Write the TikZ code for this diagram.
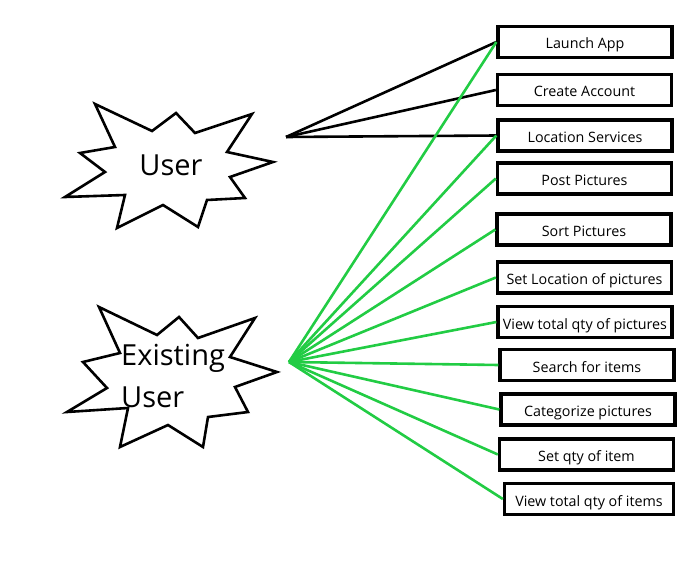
\documentclass[tikz,border=0pt]{standalone}
\usepackage{fontspec}
\setmainfont{Open Sans}
\definecolor{linkgreen}{RGB}{34,204,68}

\begin{document}
\begin{tikzpicture}[x=1pt, y=-1pt, line join=miter,
    task/.style={draw, line width=3.3pt, minimum width=174pt, minimum height=31pt,
        inner sep=0pt, text height=16pt, text depth=2pt,
        font=\fontsize{14.3}{17}\selectfont},
    starline/.style={line width=2.6pt, black},
    olduser/.style={line width=2.6pt, black},
    newuser/.style={line width=2.6pt, linkgreen}]
    \useasboundingbox (0,0) rectangle (696,564);

    % star for User
    \draw[starline] (95,104) -- (152,131) -- (176,113) -- (195,133) -- (252,114)
        -- (227,152) -- (273,162) -- (230,177) -- (245,198) -- (207,200)
        -- (198,227) -- (163,205) -- (117,228) -- (125,195) -- (65,197)
        -- (105,172) -- (80,153) -- (115,147) -- cycle;
    \node[font=\fontsize{29}{34}\selectfont] (user) at (171,165) {User};

    % star for Existing User
    \draw[starline] (99,307) -- (157,335) -- (179,317) -- (198,338) -- (255,318)
        -- (230,357) -- (277,372) -- (235,387) -- (248,412) -- (208,417)
        -- (203,447) -- (168,425) -- (120,447) -- (128,408) -- (67,412)
        -- (107,388) -- (83,362) -- (120,353) -- cycle;
    \node[font=\fontsize{29}{42}\selectfont, align=left, inner sep=0pt, anchor=west]
        (existing) at (121,376) {Existing\\User};

    % line hubs
    \coordinate (userhub) at (286,137);
    \coordinate (existhub) at (289,362);

    % task boxes
    \node[task] (launch) at (585,42) {Launch App};
    \node[task] (account) at (584.5,90) {Create Account};
    \node[task] (location) at (585,135.5) {Location Services};
    \node[task] (post) at (584.5,178.5) {Post Pictures};
    \node[task] (sort) at (584,229.5) {Sort Pictures};
    \node[task] (setloc) at (584.5,277.5) {Set Location of pictures};
    \node[task] (viewpics) at (585,322) {View total qty of pictures};
    \node[task] (search) at (587,365) {Search for items};
    \node[task] (categorize) at (588,409.5) {Categorize pictures};
    \node[task] (setqty) at (586.5,454.5) {Set qty of item};
    \node[task, minimum width=169pt] (viewitems) at (589,499) {View total qty of items};

    % User links
    \draw[olduser] (userhub) -- (launch.west);
    \draw[olduser] (userhub) -- (account.west);
    \draw[olduser] (userhub) -- (location.west);

    % Existing User links
    \draw[newuser] (existhub) -- (launch.west);
    \draw[newuser] (existhub) -- (location.west);
    \draw[newuser] (existhub) -- (post.west);
    \draw[newuser] (existhub) -- (sort.west);
    \draw[newuser] (existhub) -- (setloc.west);
    \draw[newuser] (existhub) -- (viewpics.west);
    \draw[newuser] (existhub) -- (search.west);
    \draw[newuser] (existhub) -- (categorize.west);
    \draw[newuser] (existhub) -- (setqty.west);
    \draw[newuser] (existhub) -- (viewitems.west);
\end{tikzpicture}
\end{document}
